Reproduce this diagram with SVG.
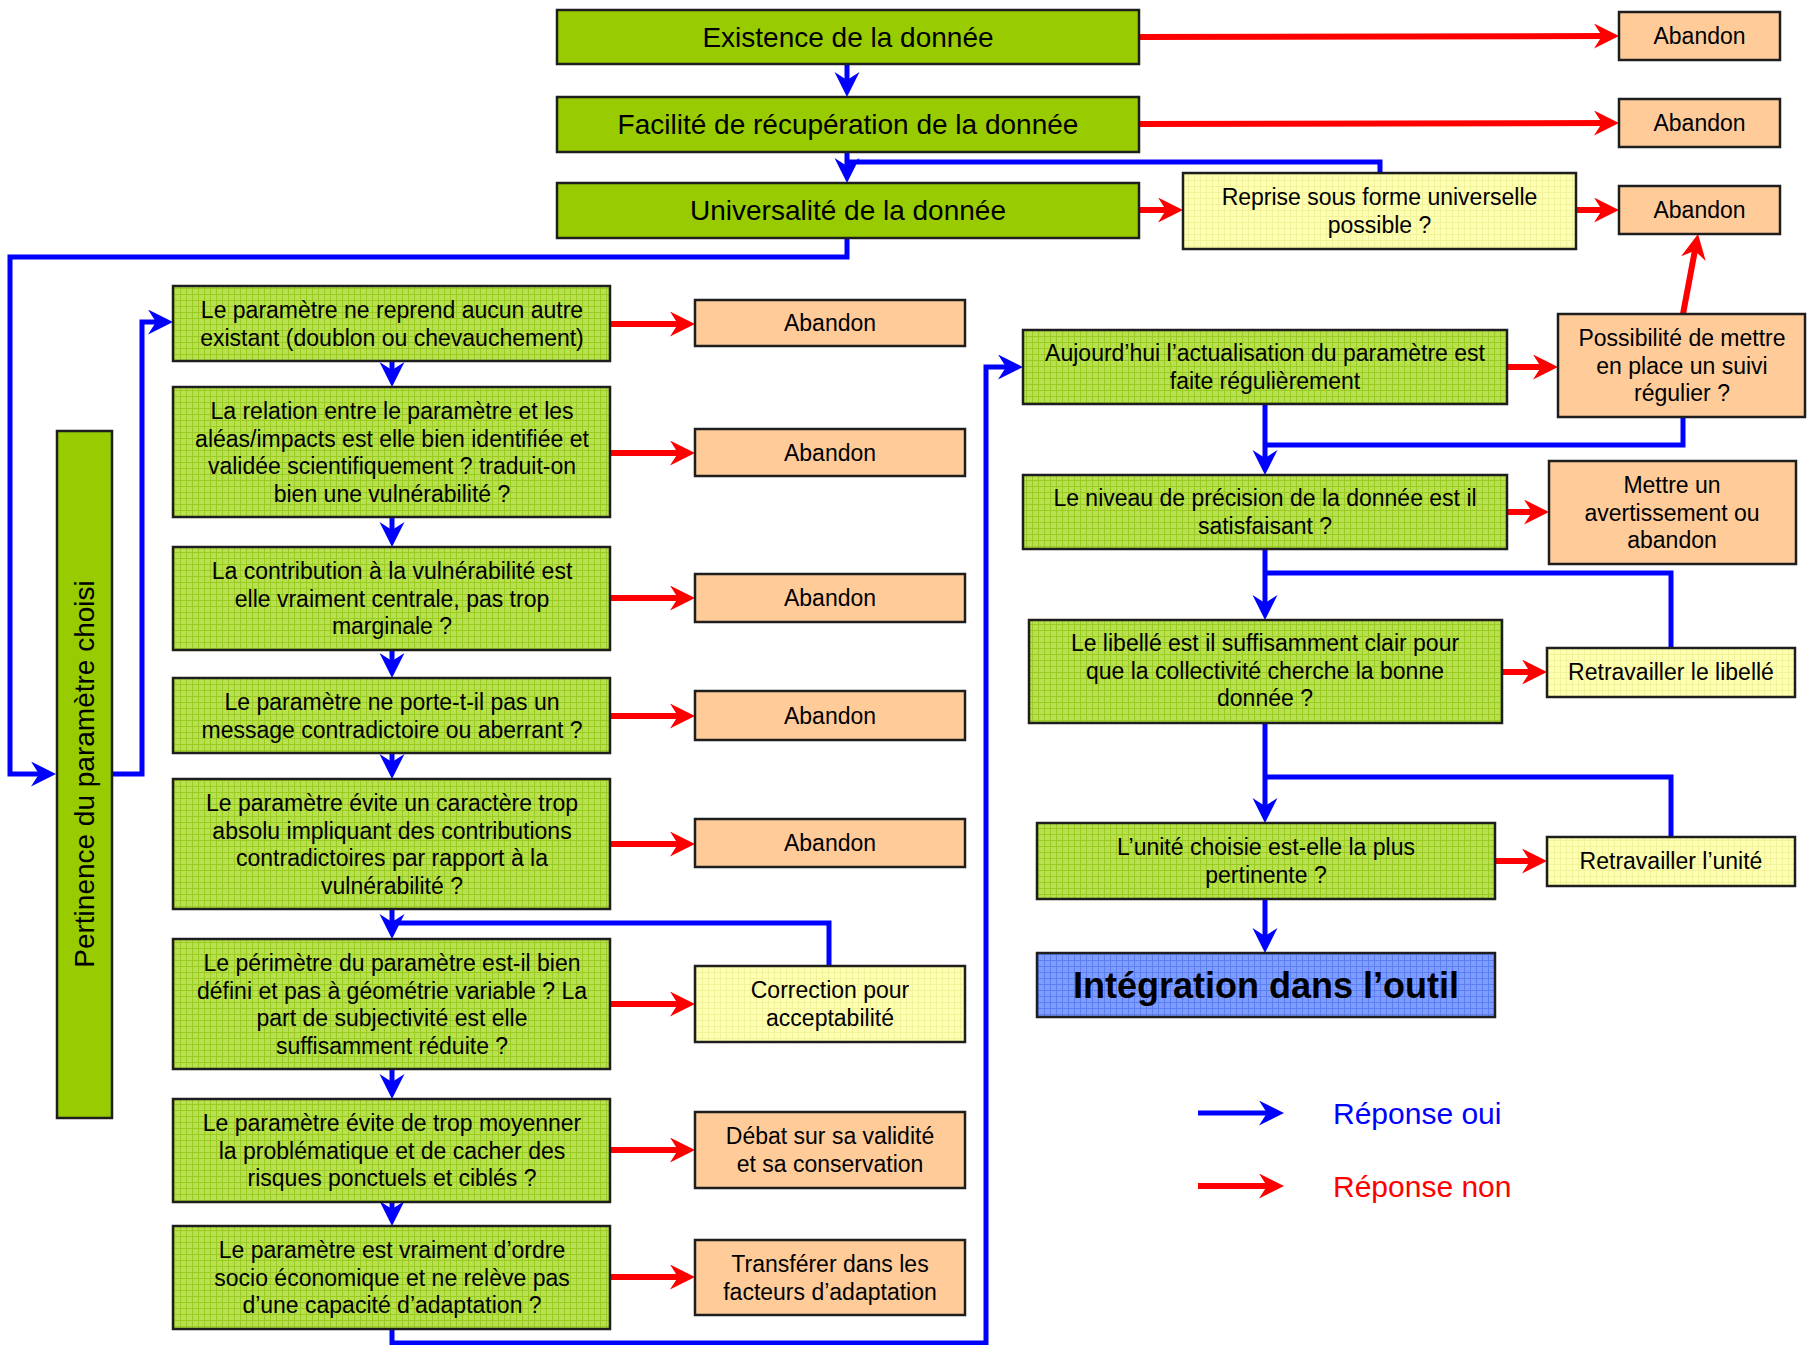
<svg xmlns="http://www.w3.org/2000/svg" width="1807" height="1345" viewBox="0 0 1807 1345">
<defs>
<pattern id="pg" width="6" height="6" patternUnits="userSpaceOnUse"><rect width="6" height="6" fill="#B8E152"/><path d="M0,0.5H6M0.5,0V6" stroke="#9CCB22" stroke-width="1"/></pattern>
<pattern id="py" width="6" height="6" patternUnits="userSpaceOnUse"><rect width="6" height="6" fill="#FFFFB4"/><path d="M0,0.5H6M0.5,0V6" stroke="#F2F29A" stroke-width="1"/></pattern>
<pattern id="pb" width="6" height="6" patternUnits="userSpaceOnUse"><rect width="6" height="6" fill="#7F9DFF"/><path d="M0,0.5H6M0.5,0V6" stroke="#5C7FF4" stroke-width="1"/></pattern>
<marker id="ab" markerUnits="userSpaceOnUse" markerWidth="26" markerHeight="26" refX="13" refY="12.5" orient="auto"><path d="M0,0L25,12.5L0,25L8,12.5z" fill="#0000FF"/></marker>
<marker id="ar" markerUnits="userSpaceOnUse" markerWidth="26" markerHeight="26" refX="13" refY="12.5" orient="auto"><path d="M0,0L25,12.5L0,25L8,12.5z" fill="#FF0000"/></marker>
<style>
g rect{stroke:#1E1E1E;stroke-width:2.5}
.s{fill:#99CC00}
.g{fill:url(#pg)}
.y{fill:url(#py)}
.o{fill:#FFCC99}
.b{fill:url(#pb)}
text{font-family:"Liberation Sans",Arial,sans-serif;font-size:23px;fill:#000;text-anchor:middle}
.big{font-size:28px}
.int{font-size:36px;font-weight:bold}
.leg{font-size:30px;text-anchor:start}
.blue{fill:none;stroke:#0000FF;stroke-width:5}
.red{fill:none;stroke:#FF0000;stroke-width:6}
</style>
</defs>
<rect x="0" y="0" width="1807" height="1345" fill="#FFFFFF"/>

<g id="connectors">
<path class="blue" d="M847,64V85" marker-end="url(#ab)"/>
<path class="blue" d="M847,152V171" marker-end="url(#ab)"/>
<path class="blue" d="M1380,173V162H845"/>
<path class="blue" d="M847,238V257H10V774H44" marker-end="url(#ab)"/>
<path class="blue" d="M112,774H142V322H161" marker-end="url(#ab)"/>
<path class="red" d="M1139,37L1607,36" marker-end="url(#ar)"/>
<path class="red" d="M1139,124L1607,123" marker-end="url(#ar)"/>
<path class="red" d="M1139,210H1171" marker-end="url(#ar)"/>
<path class="red" d="M1576,210H1607" marker-end="url(#ar)"/>

<path class="blue" d="M392,361V375" marker-end="url(#ab)"/>
<path class="blue" d="M392,517V535" marker-end="url(#ab)"/>
<path class="blue" d="M392,650V666" marker-end="url(#ab)"/>
<path class="blue" d="M392,753V767" marker-end="url(#ab)"/>
<path class="blue" d="M392,909V927" marker-end="url(#ab)"/>
<path class="blue" d="M829,966V923H390"/>
<path class="blue" d="M392,1069V1087" marker-end="url(#ab)"/>
<path class="blue" d="M392,1202V1214" marker-end="url(#ab)"/>
<path class="blue" d="M392,1329V1343H986V367H1011" marker-end="url(#ab)"/>

<path class="red" d="M610,324H683" marker-end="url(#ar)"/>
<path class="red" d="M610,453H683" marker-end="url(#ar)"/>
<path class="red" d="M610,598H683" marker-end="url(#ar)"/>
<path class="red" d="M610,716H683" marker-end="url(#ar)"/>
<path class="red" d="M610,844H683" marker-end="url(#ar)"/>
<path class="red" d="M610,1004H683" marker-end="url(#ar)"/>
<path class="red" d="M610,1150H683" marker-end="url(#ar)"/>
<path class="red" d="M610,1277H683" marker-end="url(#ar)"/>

<path class="red" d="M1507,367H1546" marker-end="url(#ar)"/>
<path class="red" d="M1683,314L1695.8,245.8" marker-end="url(#ar)"/>
<path class="blue" d="M1265,404V463" marker-end="url(#ab)"/>
<path class="blue" d="M1683,417V445H1263"/>
<path class="red" d="M1507,512H1537" marker-end="url(#ar)"/>
<path class="blue" d="M1265,549V608" marker-end="url(#ab)"/>
<path class="blue" d="M1671,648V573H1263"/>
<path class="red" d="M1502,672H1535" marker-end="url(#ar)"/>
<path class="blue" d="M1265,723V811" marker-end="url(#ab)"/>
<path class="blue" d="M1671,837V777H1263"/>
<path class="red" d="M1495,861H1535" marker-end="url(#ar)"/>
<path class="blue" d="M1265,899V941" marker-end="url(#ab)"/>
</g>

<g id="n-existence"><rect class="s" x="557" y="10" width="582" height="54"/><text class="big" x="848" y="47">Existence de la donnée</text></g>
<g id="n-facilite"><rect class="s" x="557" y="97" width="582" height="55"/><text class="big" x="848" y="134">Facilité de récupération de la donnée</text></g>
<g id="n-universalite"><rect class="s" x="557" y="183" width="582" height="55"/><text class="big" x="848" y="220">Universalité de la donnée</text></g>
<g id="n-abandon-a"><rect class="o" x="1619" y="12" width="161" height="48"/><text x="1699.5" y="44">Abandon</text></g>
<g id="n-abandon-b"><rect class="o" x="1619" y="99" width="161" height="48"/><text x="1699.5" y="131">Abandon</text></g>
<g id="n-abandon-c"><rect class="o" x="1619" y="186" width="161" height="48"/><text x="1699.5" y="218">Abandon</text></g>
<g id="n-reprise"><rect class="y" x="1183" y="173" width="393" height="76"/><text x="1379.5"><tspan x="1379.5" y="205">Reprise sous forme universelle</tspan><tspan x="1379.5" y="232.5">possible ?</tspan></text></g>

<g id="n-pertinence"><rect class="s" x="57" y="431" width="55" height="687"/><text class="big" transform="translate(94,774) rotate(-90)" x="0" y="0">Pertinence du paramètre choisi</text></g>

<g id="n-q1"><rect class="g" x="173" y="286" width="437" height="75"/><text><tspan x="392" y="318">Le paramètre ne reprend aucun autre</tspan><tspan x="392" y="345.5">existant (doublon ou chevauchement)</tspan></text></g>
<g id="n-q2"><rect class="g" x="173" y="387" width="437" height="130"/><text><tspan x="392" y="419">La relation entre le paramètre et les</tspan><tspan x="392" y="446.5">aléas/impacts est elle bien identifiée et</tspan><tspan x="392" y="474">validée scientifiquement ? traduit-on</tspan><tspan x="392" y="501.5">bien une vulnérabilité ?</tspan></text></g>
<g id="n-q3"><rect class="g" x="173" y="547" width="437" height="103"/><text><tspan x="392" y="579">La contribution à la vulnérabilité est</tspan><tspan x="392" y="606.5">elle vraiment centrale, pas trop</tspan><tspan x="392" y="634">marginale ?</tspan></text></g>
<g id="n-q4"><rect class="g" x="173" y="678" width="437" height="75"/><text><tspan x="392" y="710">Le paramètre ne porte-t-il pas un</tspan><tspan x="392" y="737.5">message contradictoire ou aberrant ?</tspan></text></g>
<g id="n-q5"><rect class="g" x="173" y="779" width="437" height="130"/><text><tspan x="392" y="811">Le paramètre évite un caractère trop</tspan><tspan x="392" y="838.5">absolu impliquant des contributions</tspan><tspan x="392" y="866">contradictoires par rapport à la</tspan><tspan x="392" y="893.5">vulnérabilité ?</tspan></text></g>
<g id="n-q6"><rect class="g" x="173" y="939" width="437" height="130"/><text><tspan x="392" y="971">Le périmètre du paramètre est-il bien</tspan><tspan x="392" y="998.5">défini et pas à géométrie variable ? La</tspan><tspan x="392" y="1026">part de subjectivité est elle</tspan><tspan x="392" y="1053.5">suffisamment réduite ?</tspan></text></g>
<g id="n-q7"><rect class="g" x="173" y="1099" width="437" height="103"/><text><tspan x="392" y="1131">Le paramètre évite de trop moyenner</tspan><tspan x="392" y="1158.5">la problématique et de cacher des</tspan><tspan x="392" y="1186">risques ponctuels et ciblés ?</tspan></text></g>
<g id="n-q8"><rect class="g" x="173" y="1226" width="437" height="103"/><text><tspan x="392" y="1258">Le paramètre est vraiment d’ordre</tspan><tspan x="392" y="1285.5">socio économique et ne relève pas</tspan><tspan x="392" y="1313">d’une capacité d’adaptation ?</tspan></text></g>

<g id="n-ab1"><rect class="o" x="695" y="300" width="270" height="46"/><text x="830" y="331">Abandon</text></g>
<g id="n-ab2"><rect class="o" x="695" y="429" width="270" height="47"/><text x="830" y="460.5">Abandon</text></g>
<g id="n-ab3"><rect class="o" x="695" y="574" width="270" height="48"/><text x="830" y="606">Abandon</text></g>
<g id="n-ab4"><rect class="o" x="695" y="691" width="270" height="49"/><text x="830" y="723.5">Abandon</text></g>
<g id="n-ab5"><rect class="o" x="695" y="819" width="270" height="48"/><text x="830" y="851">Abandon</text></g>
<g id="n-correction"><rect class="y" x="695" y="966" width="270" height="76"/><text><tspan x="830" y="998">Correction pour</tspan><tspan x="830" y="1025.5">acceptabilité</tspan></text></g>
<g id="n-debat"><rect class="o" x="695" y="1112" width="270" height="76"/><text><tspan x="830" y="1144">Débat sur sa validité</tspan><tspan x="830" y="1171.5">et sa conservation</tspan></text></g>
<g id="n-transferer"><rect class="o" x="695" y="1240" width="270" height="75"/><text><tspan x="830" y="1272">Transférer dans les</tspan><tspan x="830" y="1299.5">facteurs d’adaptation</tspan></text></g>

<g id="n-actualisation"><rect class="g" x="1023" y="330" width="484" height="74"/><text><tspan x="1265" y="361">Aujourd’hui l’actualisation du paramètre est</tspan><tspan x="1265" y="388.5">faite régulièrement</tspan></text></g>
<g id="n-possibilite"><rect class="o" x="1558" y="314" width="247" height="103"/><text><tspan x="1682" y="346">Possibilité de mettre</tspan><tspan x="1682" y="373.5">en place un suivi</tspan><tspan x="1682" y="401">régulier ?</tspan></text></g>
<g id="n-precision"><rect class="g" x="1023" y="475" width="484" height="74"/><text><tspan x="1265" y="506">Le niveau de précision de la donnée est il</tspan><tspan x="1265" y="533.5">satisfaisant ?</tspan></text></g>
<g id="n-avertissement"><rect class="o" x="1549" y="461" width="247" height="103"/><text><tspan x="1672" y="493">Mettre un</tspan><tspan x="1672" y="520.5">avertissement ou</tspan><tspan x="1672" y="548">abandon</tspan></text></g>
<g id="n-libelle"><rect class="g" x="1029" y="620" width="473" height="103"/><text><tspan x="1265" y="651">Le libellé est il suffisamment clair pour</tspan><tspan x="1265" y="678.5">que la collectivité cherche la bonne</tspan><tspan x="1265" y="706">donnée ?</tspan></text></g>
<g id="n-retravailler-libelle"><rect class="y" x="1547" y="648" width="248" height="49"/><text x="1671" y="680">Retravailler le libellé</text></g>
<g id="n-unite"><rect class="g" x="1037" y="823" width="458" height="76"/><text><tspan x="1266" y="855">L’unité choisie est-elle la plus</tspan><tspan x="1266" y="882.5">pertinente ?</tspan></text></g>
<g id="n-retravailler-unite"><rect class="y" x="1547" y="837" width="248" height="49"/><text x="1671" y="869">Retravailler l’unité</text></g>
<g id="n-integration"><rect class="b" x="1037" y="953" width="458" height="64"/><text class="int" x="1266" y="998">Intégration dans l’outil</text></g>

<g id="legend">
<path class="blue" d="M1198,1113H1272" marker-end="url(#ab)"/>
<path class="red" d="M1198,1186H1272" marker-end="url(#ar)"/>
<text class="leg" x="1333" y="1124" style="fill:#0000FF">Réponse oui</text>
<text class="leg" x="1333" y="1197" style="fill:#FF0000">Réponse non</text>
</g>
</svg>
